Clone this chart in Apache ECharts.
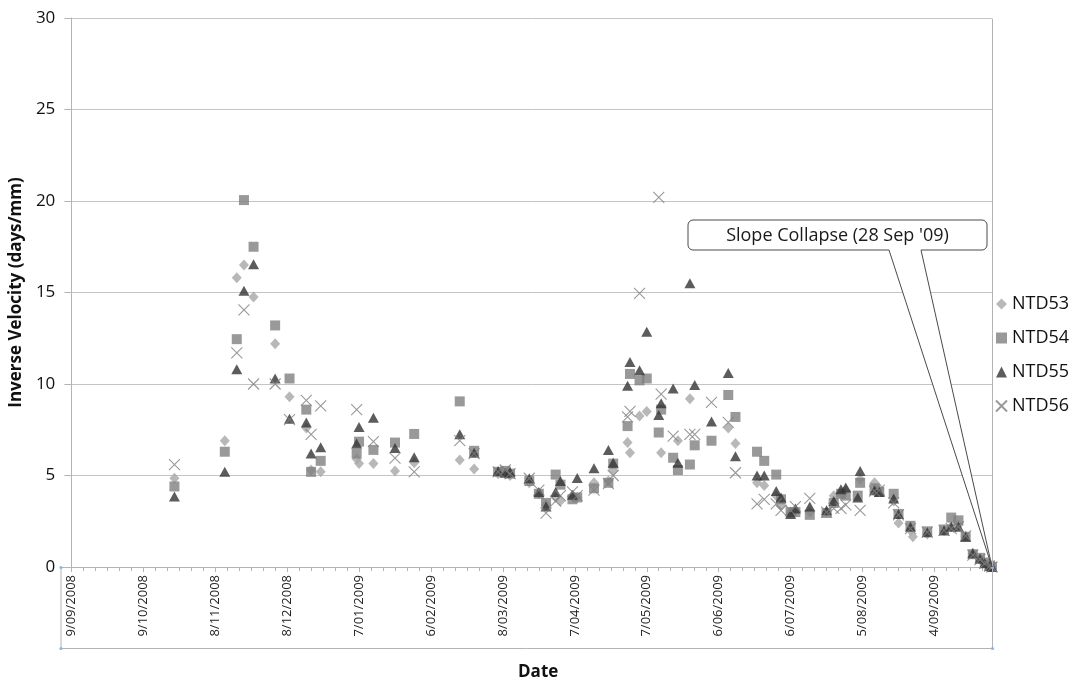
<!DOCTYPE html>
<html>
<head>
<meta charset="utf-8">
<title>Inverse Velocity</title>
<script src="https://cdn.jsdelivr.net/npm/echarts@6/dist/echarts.min.js"></script>
<style>
  html, body { margin: 0; padding: 0; background: #ffffff; }
  #chart { width: 1073px; height: 686px; }
</style>
</head>
<body>
<div id="chart"></div>
<script>
// Survey dates shared by the four prisms (null where a prism has no reading)
const surveyDates = [
  '2008-10-22', '2008-11-12', '2008-11-17', '2008-11-20', '2008-11-24', '2008-12-03',
  '2008-12-09', '2008-12-16', '2008-12-18', '2008-12-22', '2009-01-06', '2009-01-07',
  '2009-01-13', '2009-01-22', '2009-01-30', '2009-02-18', '2009-02-24', '2009-03-06',
  '2009-03-09', '2009-03-11', '2009-03-19', '2009-03-23', '2009-03-26', '2009-03-30',
  '2009-04-01', '2009-04-06', '2009-04-08', '2009-04-15', '2009-04-21', '2009-04-23',
  '2009-04-29', '2009-04-30', '2009-05-04', '2009-05-07', '2009-05-12', '2009-05-13',
  '2009-05-18', '2009-05-20', '2009-05-25', '2009-05-27', '2009-06-03', '2009-06-10',
  '2009-06-13', '2009-06-22', '2009-06-25', '2009-06-30', '2009-07-02', '2009-07-06',
  '2009-07-08', '2009-07-14', '2009-07-21', '2009-07-24', '2009-07-27', '2009-07-29',
  '2009-08-03', '2009-08-04', '2009-08-10', '2009-08-12', '2009-08-18', '2009-08-20',
  '2009-08-25', '2009-08-26', '2009-09-01', '2009-09-08', '2009-09-11', '2009-09-14',
  '2009-09-17', '2009-09-20', '2009-09-23', '2009-09-25', '2009-09-27', '2009-09-28'
];

// Inverse velocity (days/mm) per prism
const ntd53 = [
  4.85, 6.9, 15.8, 16.5, 14.75, 12.2,
  9.3, 7.6, 5.3, 5.2, 5.9, 5.65,
  5.65, 5.25, 5.7, 5.85, 5.35, 5.1,
  5.1, 5.0, 4.6, 4.0, 3.4, 3.8,
  3.6, 3.9, 3.8, 4.6, 4.7, 5.3,
  6.8, 6.25, 8.25, 8.5, null, 6.25,
  null, 6.9, 9.2, null, null, 7.6,
  6.75, 4.6, 4.45, 3.9, 3.35, 3.0,
  3.1, 3.0, 3.0, 3.9, 4.0, 4.2,
  null, 4.8, 4.6, 4.3, 3.6, 2.4,
  2.0, 1.65, 1.8, 2.0, 2.2, 2.3,
  1.7, 0.75, 0.45, 0.2, 0.05, 0
];
const ntd54 = [
  4.4, 6.3, 12.45, 20.05, 17.5, 13.2,
  10.3, 8.6, 5.2, 5.8, 6.2, 6.85,
  6.4, 6.8, 7.27, 9.05, 6.35, 5.2,
  5.25, 5.1, 4.7, 4.0, 3.5, 5.05,
  4.5, 3.7, 3.8, 4.3, 4.6, 5.65,
  7.7, 10.55, 10.2, 10.3, 7.35, 8.6,
  5.97, 5.3, 5.6, 6.65, 6.9, 9.4,
  8.2, 6.3, 5.8, 5.05, 3.7, 3.0,
  3.0, 2.85, 2.95, 3.5, 4.0, 3.9,
  3.9, 4.6, 4.3, 4.1, 4.0, 2.9,
  2.25, null, 1.95, 2.05, 2.7, 2.55,
  1.65, 0.7, 0.5, 0.25, 0.08, 0
];
const ntd55 = [
  3.85, 5.2, 10.8, 15.1, 16.55, 10.3,
  8.1, 7.9, 6.2, 6.55, 6.75, 7.65,
  8.15, 6.5, 6.0, 7.25, 6.25, 5.25,
  5.15, 5.2, 4.85, 4.1, 3.3, 4.1,
  4.7, 3.95, 4.86, 5.4, 6.4, 5.7,
  9.9, 11.2, 10.75, 12.85, 8.3, 8.95,
  9.75, 5.7, 15.5, 9.95, 7.95, 10.6,
  6.05, 5.0, 5.0, 4.15, 3.8, 2.9,
  3.2, 3.3, 3.1, 3.6, 4.25, 4.35,
  3.8, 5.25, 4.2, 4.1, 3.75, 2.9,
  2.2, null, 1.9, 2.0, 2.2, 2.2,
  1.65, 0.75, 0.45, 0.2, 0.05, 0
];
const ntd56 = [
  5.6, null, 11.7, 14.05, 10.0, 10.0,
  8.05, 9.1, 7.25, 8.8, 8.6, null,
  6.85, 5.95, 5.2, 6.9, 6.2, 5.2,
  5.3, 5.1, 4.85, 4.2, 2.95, 3.6,
  3.9, 4.1, 3.9, 4.2, 4.55, 5.0,
  8.2, 8.5, 14.95, null, 20.2, 9.45,
  7.15, null, 7.25, 7.25, 9.0, 7.9,
  5.15, 3.45, 3.7, 3.45, 3.1, 3.1,
  3.3, 3.75, 3.0, 3.2, 3.2, 3.4,
  null, 3.1, 4.15, 4.2, 3.5, 2.85,
  2.1, null, 1.9, 2.0, 2.1, 2.2,
  1.7, 0.65, 0.4, 0.2, 0.05, 0
];

const seriesNames = ['NTD53', 'NTD54', 'NTD55', 'NTD56'];
const seriesValues = [ntd53, ntd54, ntd55, ntd56];

// Date axis: starts 9 Sep 2008, ends on the collapse day, labelled every 30 days
const axisStartDate = '2008-09-09';
const axisEndDate = '2009-09-28';
const dateStepDays = 30;
const yMin = 0, yMax = 30, yStep = 5;

const collapseDate = '2009-09-28';
const collapseLabel = "Slope Collapse (28 Sep '09)";

const DAY_MS = 86400000;
function toUTC(iso) {
  const p = iso.split('-').map(Number);
  return Date.UTC(p[0], p[1] - 1, p[2]);
}
const originMs = toUTC(axisStartDate);
function dayOffset(iso) { return Math.round((toUTC(iso) - originMs) / DAY_MS); }
function dayLabel(v) {
  const d = new Date(originMs + v * DAY_MS);
  const mm = String(d.getUTCMonth() + 1).padStart(2, '0');
  return d.getUTCDate() + '/' + mm + '/' + d.getUTCFullYear();
}

const FONT = '"Open Sans", "Noto Sans", sans-serif';
const AXIS_GREY = '#b4b4b4';

const markerStyles = [
  { symbol: 'diamond', symbolSize: [10, 11], itemStyle: { color: '#a6a6a6' } },
  { symbol: 'rect', symbolSize: 10, itemStyle: { color: '#7f7f7f' } },
  { symbol: 'triangle', symbolSize: [11, 10], itemStyle: { color: '#333333' } },
  { symbol: 'path://M0,0L10,10M10,0L0,10', symbolSize: 11,
    itemStyle: { color: 'rgba(0,0,0,0)', borderColor: '#7f7f7f', borderWidth: 1.1 } }
];

const series = seriesNames.map((name, i) => {
  const pts = [];
  surveyDates.forEach((d, k) => {
    const v = seriesValues[i][k];
    if (v !== null) pts.push([dayOffset(d), v]);
  });
  return Object.assign({
    name: name,
    type: 'scatter',
    data: pts,
    z: 2 + i,
    emphasis: { disabled: true }
  }, markerStyles[i]);
});

const chart = echarts.init(document.getElementById('chart'), null, { renderer: 'canvas' });

chart.setOption({
  animation: false,
  backgroundColor: '#ffffff',
  textStyle: { fontFamily: FONT },
  grid: { left: 69, right: 81, top: 18, bottom: 111, containLabel: false },
  legend: {
    orient: 'vertical',
    left: 990,
    top: 290,
    itemWidth: 11,
    itemHeight: 11,
    itemGap: 16,
    textStyle: { fontFamily: FONT, fontSize: 18, color: '#111111', lineHeight: 18 },
    data: seriesNames
  },
  xAxis: {
    type: 'value',
    min: 0,
    max: dayOffset(axisEndDate),
    interval: dateStepDays,
    name: 'Date',
    nameLocation: 'middle',
    nameGap: 97,
    nameTextStyle: { fontFamily: FONT, fontSize: 17, fontWeight: 'bold', color: '#111111', padding: [0, 0, 0, 13] },
    axisLine: { show: true, lineStyle: { color: AXIS_GREY, width: 1 } },
    axisTick: { show: true, inside: false, length: 5, lineStyle: { color: AXIS_GREY } },
    minorTick: { show: true, splitNumber: 6, length: 4, lineStyle: { color: AXIS_GREY } },
    splitLine: { show: false },
    axisLabel: {
      rotate: 90,
      margin: 8,
      fontFamily: FONT,
      fontSize: 13,
      color: '#222222',
      showMaxLabel: false,
      formatter: dayLabel
    }
  },
  yAxis: {
    type: 'value',
    min: yMin,
    max: yMax,
    interval: yStep,
    name: 'Inverse Velocity (days/mm)',
    nameLocation: 'middle',
    nameGap: 44,
    nameTextStyle: { fontFamily: FONT, fontSize: 17, fontWeight: 'bold', color: '#111111' },
    axisLine: { show: true, lineStyle: { color: AXIS_GREY, width: 1 } },
    axisTick: { show: true, inside: false, length: 7, lineStyle: { color: AXIS_GREY } },
    splitLine: { show: true, lineStyle: { color: '#c4c4c4', width: 1 } },
    axisLabel: { margin: 16, fontFamily: FONT, fontSize: 17, color: '#111111' }
  },
  series: series
});

// Frame round the date labels and the callout pointing at the collapse reading
function drawOverlay() {
  const origin = chart.convertToPixel({ gridIndex: 0 }, [0, yMin]);
  const corner = chart.convertToPixel({ gridIndex: 0 }, [dayOffset(axisEndDate), yMax]);
  const tip = chart.convertToPixel({ gridIndex: 0 }, [dayOffset(collapseDate), 0]);
  const xL = 61, xR = Math.round(corner[0]) + 0.5, yAxisRow = Math.round(origin[1]) + 0.5, yBottom = 648.5;

  const lineStyle = { stroke: AXIS_GREY, lineWidth: 1 };
  const dots = [[xL, yAxisRow], [xL, yBottom], [xR, yAxisRow], [xR, yBottom]].map(p => ({
    type: 'circle', shape: { cx: p[0], cy: p[1], r: 1.6 }, style: { fill: '#8fb6df' }, z: 20
  }));

  // callout box with a wedge running down to the collapse point
  const bx0 = 688, by0 = 220, bx1 = 987, by1 = 250, r = 5;
  const w1 = 889, w2 = 921;
  function arc(cx, cy, a0, a1) {
    const out = [];
    for (let k = 0; k <= 4; k++) {
      const a = a0 + (a1 - a0) * k / 4;
      out.push([cx + r * Math.cos(a), cy + r * Math.sin(a)]);
    }
    return out;
  }
  const PI = Math.PI;
  const pts = [].concat(
    arc(bx0 + r, by0 + r, PI, 1.5 * PI),
    arc(bx1 - r, by0 + r, 1.5 * PI, 2 * PI),
    arc(bx1 - r, by1 - r, 0, 0.5 * PI),
    [[w2, by1], [tip[0], tip[1]], [w1, by1]],
    arc(bx0 + r, by1 - r, 0.5 * PI, PI)
  );

  chart.setOption({
    graphic: [
      { type: 'line', shape: { x1: xL, y1: yAxisRow, x2: origin[0], y2: yAxisRow }, style: lineStyle, z: 10 },
      { type: 'line', shape: { x1: xL, y1: yAxisRow, x2: xL, y2: yBottom }, style: lineStyle, z: 10 },
      { type: 'line', shape: { x1: xL, y1: yBottom, x2: xR, y2: yBottom }, style: lineStyle, z: 10 },
      { type: 'line', shape: { x1: xR, y1: Math.round(corner[1]) + 0.5, x2: xR, y2: yBottom }, style: lineStyle, z: 10 },
      { type: 'polygon', shape: { points: pts },
        style: { fill: '#ffffff', stroke: '#4a4a4a', lineWidth: 1 }, z: 30 },
      { type: 'text', x: (bx0 + bx1) / 2, y: (by0 + by1) / 2 + 1,
        style: { text: collapseLabel, font: '18px ' + FONT, fill: '#1a1a1a',
                 align: 'center', verticalAlign: 'middle' }, z: 31 }
    ].concat(dots)
  });
}
drawOverlay();
</script>
</body>
</html>
